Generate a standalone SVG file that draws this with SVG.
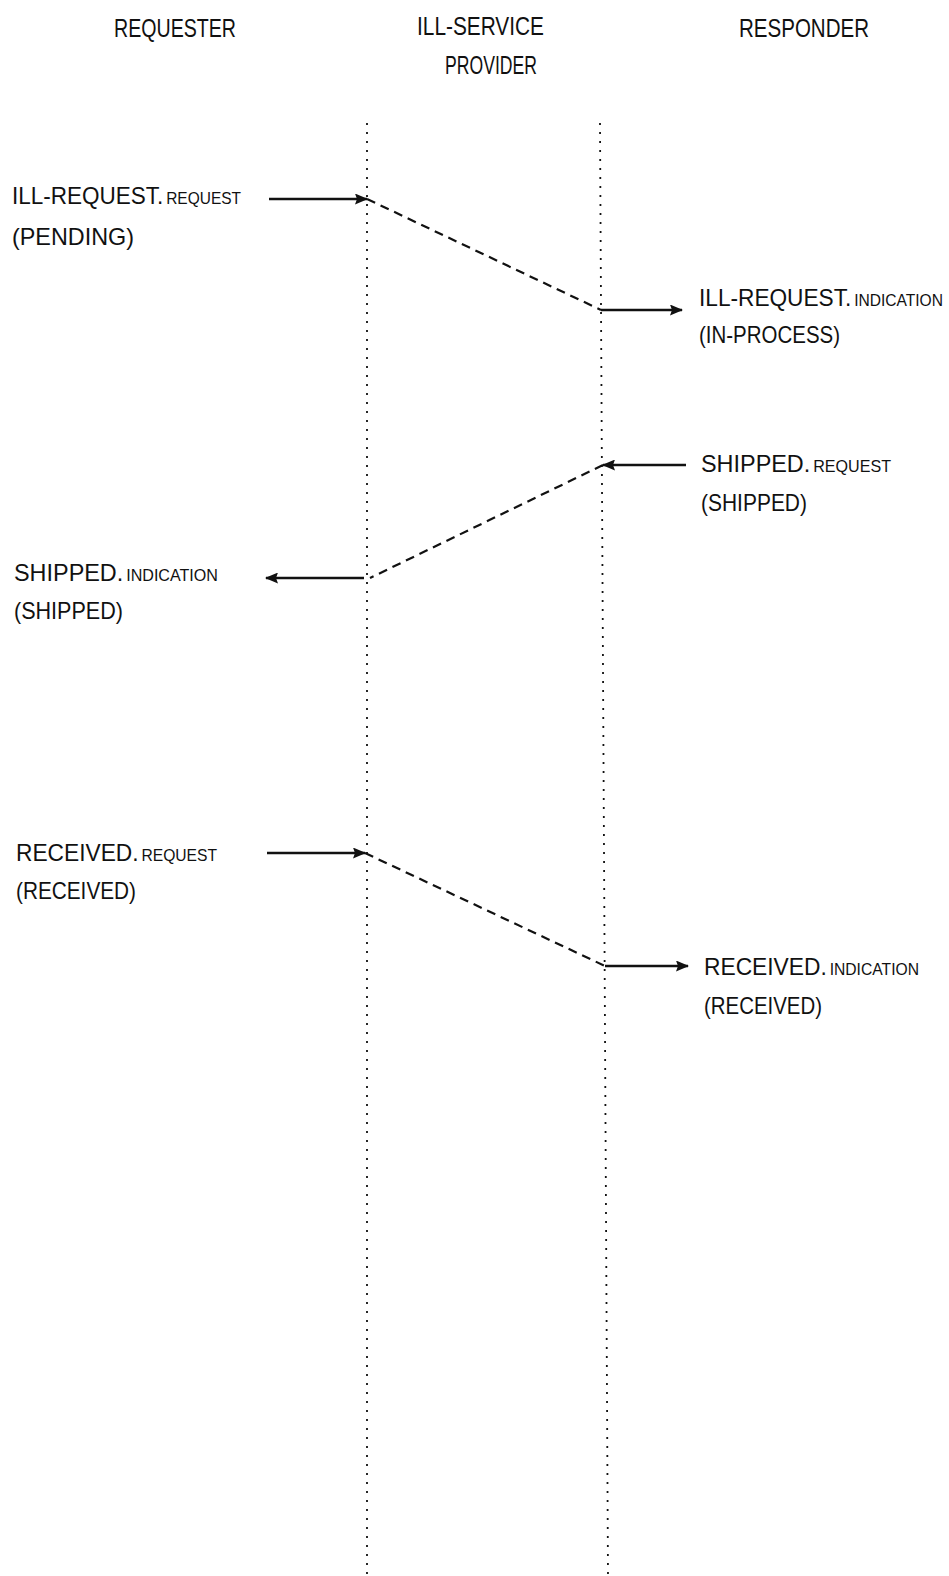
<svg xmlns="http://www.w3.org/2000/svg" width="949" height="1576" viewBox="0 0 949 1576">
<style>
text{font-family:"Liberation Sans",Arial,sans-serif;fill:#111;}
.hd{font-size:25px;}
.lb{font-size:24px;}
.sc{font-size:16.5px;}
.life{stroke:#111;stroke-width:1.8;stroke-dasharray:2 7;fill:none;}
.sol{stroke:#111;stroke-width:2.4;fill:none;}
.dash{stroke:#111;stroke-width:2.2;stroke-dasharray:9 6;fill:none;}
</style>
<defs>
<marker id="ah" markerUnits="userSpaceOnUse" markerWidth="13" markerHeight="11" refX="12" refY="5.5" orient="auto">
<path d="M0,0 L13,5.5 L0,11 L2,5.5 z" fill="#111"/>
</marker>
</defs>
<rect width="949" height="1576" fill="#fff"/>
<g id="requester">
<text class="hd" x="114" y="37" textLength="122" lengthAdjust="spacingAndGlyphs">REQUESTER</text>
</g>
<g id="provider">
<text class="hd" x="417" y="35" textLength="127" lengthAdjust="spacingAndGlyphs">ILL-SERVICE</text>
<text class="hd" x="445" y="74" textLength="92" lengthAdjust="spacingAndGlyphs">PROVIDER</text>
</g>
<g id="responder">
<text class="hd" x="739" y="37" textLength="130" lengthAdjust="spacingAndGlyphs">RESPONDER</text>
</g>
<g id="lifelines">
<line class="life" x1="367" y1="123" x2="367" y2="1576"/>
<line class="life" x1="600" y1="123" x2="608" y2="1576"/>
</g>
<g id="label-ill-request-request">
<text class="lb" x="12" y="204" textLength="229" lengthAdjust="spacingAndGlyphs">ILL-REQUEST.<tspan class="sc" dx="3">REQUEST</tspan></text>
<text class="lb" x="12" y="245" textLength="122" lengthAdjust="spacingAndGlyphs">(PENDING)</text>
</g>
<g id="label-ill-request-indication">
<text class="lb" x="699" y="306" textLength="244" lengthAdjust="spacingAndGlyphs">ILL-REQUEST.<tspan class="sc" dx="3">INDICATION</tspan></text>
<text class="lb" x="699" y="343" textLength="141" lengthAdjust="spacingAndGlyphs">(IN-PROCESS)</text>
</g>
<g id="label-shipped-request">
<text class="lb" x="701" y="472" textLength="190" lengthAdjust="spacingAndGlyphs">SHIPPED.<tspan class="sc" dx="3">REQUEST</tspan></text>
<text class="lb" x="701" y="511" textLength="106" lengthAdjust="spacingAndGlyphs">(SHIPPED)</text>
</g>
<g id="label-shipped-indication">
<text class="lb" x="14" y="581" textLength="204" lengthAdjust="spacingAndGlyphs">SHIPPED.<tspan class="sc" dx="3">INDICATION</tspan></text>
<text class="lb" x="14" y="619" textLength="109" lengthAdjust="spacingAndGlyphs">(SHIPPED)</text>
</g>
<g id="label-received-request">
<text class="lb" x="16" y="861" textLength="201" lengthAdjust="spacingAndGlyphs">RECEIVED.<tspan class="sc" dx="3">REQUEST</tspan></text>
<text class="lb" x="16" y="899" textLength="120" lengthAdjust="spacingAndGlyphs">(RECEIVED)</text>
</g>
<g id="label-received-indication">
<text class="lb" x="704" y="975" textLength="215" lengthAdjust="spacingAndGlyphs">RECEIVED.<tspan class="sc" dx="3">INDICATION</tspan></text>
<text class="lb" x="704" y="1014" textLength="118" lengthAdjust="spacingAndGlyphs">(RECEIVED)</text>
</g>
<g id="connectors">
<line class="sol" x1="269" y1="199" x2="367" y2="199" marker-end="url(#ah)"/>
<line class="dash" x1="367" y1="199" x2="601" y2="310"/>
<line class="sol" x1="601" y1="310" x2="682" y2="310" marker-end="url(#ah)"/>
<line class="sol" x1="686" y1="465" x2="603" y2="465" marker-end="url(#ah)"/>
<line class="dash" x1="603" y1="465" x2="370" y2="578"/>
<line class="sol" x1="364" y1="578" x2="266" y2="578" marker-end="url(#ah)"/>
<line class="sol" x1="267" y1="853" x2="365" y2="853" marker-end="url(#ah)"/>
<line class="dash" x1="365" y1="853" x2="605" y2="966"/>
<line class="sol" x1="605" y1="966" x2="688" y2="966" marker-end="url(#ah)"/>
</g>
</svg>
